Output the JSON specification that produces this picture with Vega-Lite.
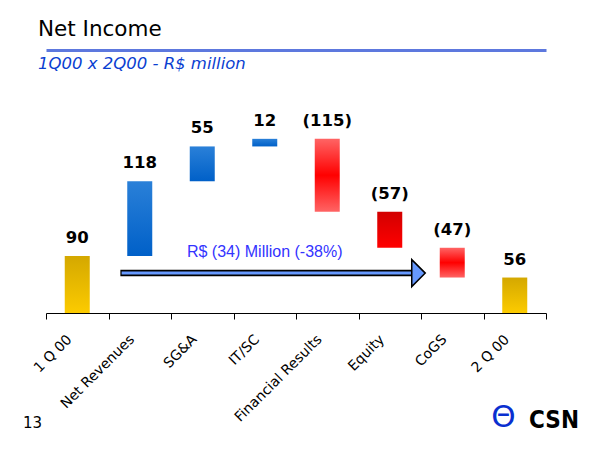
{
  "$schema": "https://vega.github.io/schema/vega-lite/v6.json",
  "width": 500,
  "height": 190,
  "autosize": {"type": "none"},
  "padding": {"left": 46, "top": 123, "right": 54, "bottom": 137},
  "background": "white",
  "config": {"view": {"stroke": null}},
  "title": {
    "text": "Net Income",
    "subtitle": "1Q00 x 2Q00 - R$ million",
    "anchor": "start",
    "frame": "group",
    "dx": -8,
    "offset": -22.5,
    "font": "DejaVu Sans",
    "fontSize": 21.5,
    "fontWeight": "normal",
    "color": "black",
    "subtitleFont": "DejaVu Sans",
    "subtitleFontStyle": "italic",
    "subtitleFontSize": 16.5,
    "subtitleColor": "#0b3fd1",
    "subtitlePadding": 15.5
  },
  "datasets": {
    "bars": [
      {"cat": "1 Q 00", "start": 0, "end": 90, "label": "90", "kind": "total"},
      {"cat": "Net Revenues", "start": 90, "end": 208, "label": "118", "kind": "increase"},
      {"cat": "SG&A", "start": 208, "end": 263, "label": "55", "kind": "increase"},
      {"cat": "IT/SC", "start": 263, "end": 275, "label": "12", "kind": "increase"},
      {"cat": "Financial Results", "start": 275, "end": 160, "label": "(115)", "kind": "decrease"},
      {"cat": "Equity", "start": 160, "end": 103, "label": "(57)", "kind": "decrease"},
      {"cat": "CoGS", "start": 103, "end": 56, "label": "(47)", "kind": "decrease"},
      {"cat": "2 Q 00", "start": 0, "end": 56, "label": "56", "kind": "total"}
    ],
    "note": [
      {"from": "Net Revenues", "to": "Equity", "mid": "IT/SC", "text": "R$ (34) Million (-38%)"}
    ]
  },
  "data": {"name": "bars"},
  "resolve": {"axis": {"x": "independent", "y": "independent"}},
  "layer": [
    {
      "transform": [{"filter": "datum.kind === 'total'"}],
      "mark": {"type": "bar", "width": {"band": 0.4}, "color": {"gradient": "linear", "x1": 0, "y1": 0, "x2": 0, "y2": 1, "stops": [{"offset": 0, "color": "#d4a800"}, {"offset": 1, "color": "#fccb00"}]}},
      "encoding": {
        "x": {"field": "cat", "type": "nominal", "sort": null,
          "scale": {"domain": ["1 Q 00", "Net Revenues", "SG&A", "IT/SC", "Financial Results", "Equity", "CoGS", "2 Q 00"], "paddingInner": 0, "paddingOuter": 0},
          "axis": {"title": "13", "titleX": -14, "titleY": 114, "titleAngle": 0, "titleAlign": "center", "titleBaseline": "alphabetic", "titleFont": "DejaVu Sans", "titleFontSize": 15, "titleFontWeight": "normal", "titleColor": "black",
            "domainColor": "black", "domainWidth": 1, "tickColor": "black", "tickSize": 6, "tickBand": "extent",
            "labelAngle": -45, "labelAlign": "right", "labelBaseline": "middle", "labelPadding": 18, "labelOffset": -8, "labelFont": "DejaVu Sans", "labelFontSize": 14, "labelColor": "black", "labelOverlap": false, "labelFlush": false, "labelLimit": 300}},
        "y": {"field": "start", "type": "quantitative", "scale": {"domain": [0, 300]},
          "axis": {"title": "CSN", "domain": false, "ticks": false, "labels": false, "grid": false, "titleX": 507.5, "titleY": 304, "titleAngle": 0, "titleAlign": "center", "titleBaseline": "alphabetic", "titleFont": "DejaVu Sans Condensed", "titleFontSize": 24, "titleFontWeight": "bold", "titleColor": "black"}},
        "y2": {"field": "end"}
      }
    },
    {
      "transform": [{"filter": "datum.kind === 'increase'"}],
      "mark": {"type": "bar", "width": {"band": 0.4}, "color": {"gradient": "linear", "x1": 0, "y1": 0, "x2": 0, "y2": 1, "stops": [{"offset": 0, "color": "#2a80d8"}, {"offset": 1, "color": "#0060c8"}]}},
      "encoding": {
        "x": {"field": "cat", "type": "nominal", "sort": null, "axis": null, "scale": {"domain": ["1 Q 00", "Net Revenues", "SG&A", "IT/SC", "Financial Results", "Equity", "CoGS", "2 Q 00"], "paddingInner": 0, "paddingOuter": 0}},
        "y": {"field": "start", "type": "quantitative", "axis": null, "scale": {"domain": [0, 300]}},
        "y2": {"field": "end"}
      }
    },
    {
      "transform": [{"filter": "datum.kind === 'decrease' && datum.cat !== 'Equity'"}],
      "mark": {"type": "bar", "width": {"band": 0.4}, "color": {"gradient": "linear", "x1": 0, "y1": 0, "x2": 0, "y2": 1, "stops": [{"offset": 0, "color": "#ff6464"}, {"offset": 0.5, "color": "#ff0000"}, {"offset": 1, "color": "#ff6464"}]}},
      "encoding": {
        "x": {"field": "cat", "type": "nominal", "sort": null, "axis": null, "scale": {"domain": ["1 Q 00", "Net Revenues", "SG&A", "IT/SC", "Financial Results", "Equity", "CoGS", "2 Q 00"], "paddingInner": 0, "paddingOuter": 0}},
        "y": {"field": "start", "type": "quantitative", "axis": null, "scale": {"domain": [0, 300]}},
        "y2": {"field": "end"}
      }
    },
    {
      "transform": [{"filter": "datum.cat === 'Equity'"}],
      "mark": {"type": "bar", "width": {"band": 0.4}, "color": {"gradient": "linear", "x1": 0, "y1": 0, "x2": 0, "y2": 1, "stops": [{"offset": 0, "color": "#d20000"}, {"offset": 1, "color": "#ff0000"}]}},
      "encoding": {
        "x": {"field": "cat", "type": "nominal", "sort": null, "axis": null, "scale": {"domain": ["1 Q 00", "Net Revenues", "SG&A", "IT/SC", "Financial Results", "Equity", "CoGS", "2 Q 00"], "paddingInner": 0, "paddingOuter": 0}},
        "y": {"field": "start", "type": "quantitative", "axis": null, "scale": {"domain": [0, 300]}},
        "y2": {"field": "end"}
      }
    },
    {
      "transform": [{"filter": "datum.kind !== 'decrease'"}],
      "mark": {"type": "text", "font": "DejaVu Sans", "fontSize": 16.5, "fontWeight": "bold", "color": "black", "baseline": "alphabetic", "align": "center", "dy": -13},
      "encoding": {
        "x": {"field": "cat", "type": "nominal", "sort": null, "axis": null, "scale": {"domain": ["1 Q 00", "Net Revenues", "SG&A", "IT/SC", "Financial Results", "Equity", "CoGS", "2 Q 00"], "paddingInner": 0, "paddingOuter": 0}},
        "y": {"field": "end", "type": "quantitative", "axis": null, "scale": {"domain": [0, 300]}},
        "text": {"field": "label"}
      }
    },
    {
      "transform": [{"filter": "datum.kind === 'decrease'"}],
      "mark": {"type": "text", "font": "DejaVu Sans", "fontSize": 16.5, "fontWeight": "bold", "color": "black", "baseline": "alphabetic", "align": "center", "dy": -13},
      "encoding": {
        "x": {"field": "cat", "type": "nominal", "sort": null, "axis": null, "scale": {"domain": ["1 Q 00", "Net Revenues", "SG&A", "IT/SC", "Financial Results", "Equity", "CoGS", "2 Q 00"], "paddingInner": 0, "paddingOuter": 0}},
        "y": {"field": "start", "type": "quantitative", "axis": null, "scale": {"domain": [0, 300]}},
        "text": {"field": "label"}
      }
    },
    {
      "data": {"name": "note"},
      "mark": {"type": "rule", "strokeWidth": 6.5, "color": "black", "strokeCap": "butt"},
      "encoding": {
        "x": {"field": "from", "type": "nominal", "bandPosition": 0.19, "axis": null, "scale": {"domain": ["1 Q 00", "Net Revenues", "SG&A", "IT/SC", "Financial Results", "Equity", "CoGS", "2 Q 00"], "paddingInner": 0, "paddingOuter": 0}},
        "x2": {"field": "to", "bandPosition": 0.86},
        "y": {"datum": 63, "type": "quantitative", "axis": null}
      }
    },
    {
      "data": {"name": "note"},
      "mark": {"type": "rule", "strokeWidth": 3, "color": "#6699ff", "strokeCap": "butt"},
      "encoding": {
        "x": {"field": "from", "type": "nominal", "bandPosition": 0.21, "axis": null, "scale": {"domain": ["1 Q 00", "Net Revenues", "SG&A", "IT/SC", "Financial Results", "Equity", "CoGS", "2 Q 00"], "paddingInner": 0, "paddingOuter": 0}},
        "x2": {"field": "to", "bandPosition": 0.9},
        "y": {"datum": 63, "type": "quantitative", "axis": null}
      }
    },
    {
      "data": {"name": "note"},
      "mark": {"type": "point", "shape": "M-0.5,-1L0.5,0L-0.5,1Z", "size": 729, "filled": true, "fill": "#6699ff", "stroke": "black", "strokeWidth": 1.5, "opacity": 1},
      "encoding": {
        "x": {"field": "to", "type": "nominal", "bandPosition": 0.96, "axis": null, "scale": {"domain": ["1 Q 00", "Net Revenues", "SG&A", "IT/SC", "Financial Results", "Equity", "CoGS", "2 Q 00"], "paddingInner": 0, "paddingOuter": 0}},
        "y": {"datum": 63, "type": "quantitative", "axis": null}
      }
    },
    {
      "data": {"name": "note"},
      "mark": {"type": "text", "font": "Liberation Sans", "fontSize": 16, "color": "#3333ff", "baseline": "alphabetic", "align": "center"},
      "encoding": {
        "x": {"field": "mid", "type": "nominal", "scale": {"domain": ["1 Q 00", "Net Revenues", "SG&A", "IT/SC", "Financial Results", "Equity", "CoGS", "2 Q 00"], "paddingInner": 0, "paddingOuter": 0},
          "axis": {"orient": "top", "offset": 73, "title": null, "labels": false, "ticks": false, "grid": false, "domain": true, "domainColor": "#5d78de", "domainWidth": 3}},
        "y": {"datum": 88, "type": "quantitative",
          "axis": {"orient": "right", "title": "Θ", "domain": false, "ticks": false, "labels": false, "grid": false, "titleX": -43, "titleY": 303, "titleAngle": 0, "titleAlign": "center", "titleBaseline": "alphabetic", "titleFont": "DejaVu Sans", "titleFontSize": 31, "titleFontWeight": "normal", "titleColor": "#0a2fd0"}},
        "text": {"field": "text"}
      }
    }
  ]
}
